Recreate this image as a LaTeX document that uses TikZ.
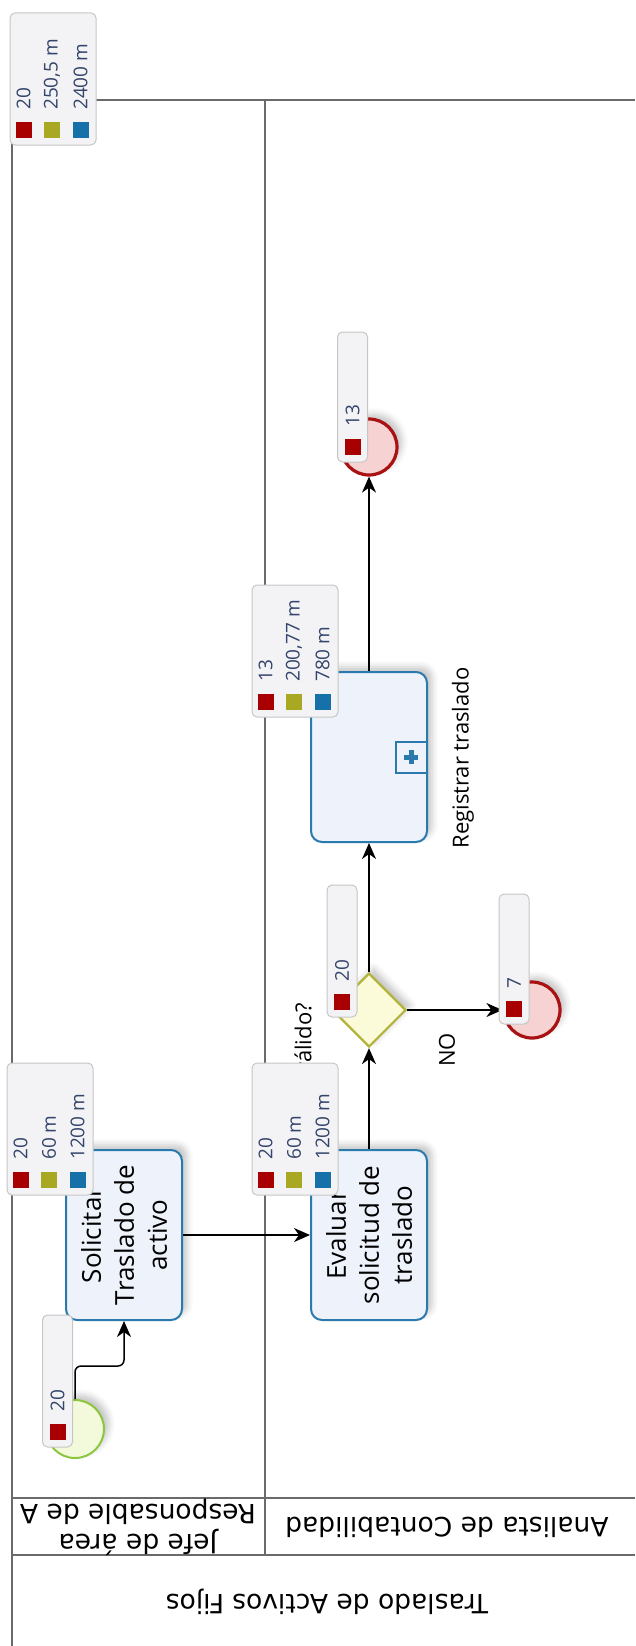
\documentclass[tikz,border=0pt]{standalone}
\usepackage{fontspec}
\setmainfont{Open Sans}
\newfontfamily\hdrfont{DejaVu Sans}
\usetikzlibrary{arrows.meta,shapes.geometric,shadows.blur}

\definecolor{laneline}{HTML}{6A6A6A}
\definecolor{taskline}{HTML}{2A7AAE}
\definecolor{taskfill}{HTML}{EEF2FB}
\definecolor{startline}{HTML}{8CC63F}
\definecolor{startfill}{HTML}{F3F9DB}
\definecolor{endline}{HTML}{A81212}
\definecolor{endfill}{HTML}{F6D2D2}
\definecolor{gwline}{HTML}{B2B33A}
\definecolor{gwfill}{HTML}{FBFBD9}
\definecolor{statline}{HTML}{C6C6C6}
\definecolor{statfill}{HTML}{F3F3F6}
\definecolor{stattext}{HTML}{34456B}
\definecolor{sqred}{HTML}{A80000}
\definecolor{sqolive}{HTML}{A9A823}
\definecolor{sqblue}{HTML}{1671A8}

\tikzset{
  lane/.style={draw=laneline, line width=1.2pt},
  lanetitle/.style={rotate=180, inner sep=0pt, align=center,
    font=\hdrfont\fontsize{26.5}{30}\selectfont},
  task/.style={draw=taskline, fill=taskfill, line width=2pt, rounded corners=11pt,
    rotate=90, minimum width=170pt, minimum height=116pt, inner sep=0pt,
    align=center, font=\fontsize{26}{33}\selectfont,
    blur shadow={shadow xshift=5pt, shadow yshift=5pt, shadow blur radius=6pt, shadow opacity=22}},
  startev/.style={circle, draw=startline, fill=startfill, line width=2pt,
    minimum size=58pt, inner sep=0pt,
    blur shadow={shadow xshift=5pt, shadow yshift=5pt, shadow blur radius=6pt, shadow opacity=22}},
  endev/.style={circle, draw=endline, fill=endfill, line width=3.2pt,
    minimum size=56pt, inner sep=0pt,
    blur shadow={shadow xshift=5pt, shadow yshift=5pt, shadow blur radius=6pt, shadow opacity=22}},
  gateway/.style={diamond, draw=gwline, fill=gwfill, line width=2.2pt,
    minimum width=74pt, minimum height=74pt, inner sep=0pt,
    blur shadow={shadow xshift=5pt, shadow yshift=5pt, shadow blur radius=6pt, shadow opacity=22}},
  plusbox/.style={draw=taskline, line width=2pt, minimum size=31pt, inner sep=0pt},
  plusmark/.style={draw=taskline, line width=5pt},
  flow/.style={draw=black, line width=1.5pt, -{Stealth[length=16pt, width=14pt, inset=5pt]}},
  flowlbl/.style={rotate=90, inner sep=0pt, font=\fontsize{22}{26}\selectfont},
  statbox/.style={draw=statline, fill=statfill, line width=1pt, rounded corners=5pt, inner sep=0pt},
  statsq/.style={minimum size=16pt, inner sep=0pt},
  stattxt/.style={rotate=90, anchor=west, inner sep=0pt, text=stattext,
    font=\fontsize{19}{22}\selectfont},
}

\begin{document}
\begin{tikzpicture}[x=1pt, y=-1pt]
\useasboundingbox (0,0) rectangle (635,1646);

% ---------------------------------------------
% Pool and lanes
% ---------------------------------------------
\draw[lane] (12,100) -- (635,100);
\draw[lane] (12,100) -- (12,1646);
\draw[lane] (265,100) -- (265,1555);
\draw[lane] (12,1498) -- (635,1498);
\draw[lane] (12,1555) -- (635,1555);

\node[lanetitle] (jefe) at (138,1527) {Jefe de área\\Responsable de A};
\node[lanetitle] (analista) at (447,1527) {Analista de Contabilidad};
\node[lanetitle] (pool) at (327,1602) {Traslado de Activos Fijos};

% ---------------------------------------------
% Events, tasks, gateway
% ---------------------------------------------
\node[startev] (inicio) at (75,1429) {};
\node[task] (solicitar) at (124,1235) {Solicitar\\Traslado de\\activo};
\node[task] (evaluar) at (369,1235) {Evaluar\\solicitud de\\traslado};
\node[gateway] (valido) at (369,1010) {};
\node[endev] (finno) at (532,1010) {};
\node[task] (registrar) at (369,757) {};
\node[endev] (finok) at (369,447) {};

% subprocess marker
\node[plusbox] (subproc) at ([xshift=-17pt]registrar.south) {};
\draw[plusmark] ([xshift=-7pt]subproc.center) -- ([xshift=7pt]subproc.center);
\draw[plusmark] ([yshift=-7pt]subproc.center) -- ([yshift=7pt]subproc.center);

% labels
\node[flowlbl, anchor=east] (lblvalido) at (305,1003) {¿Es válido?};
\node[flowlbl] (lblno) at (447,1050) {NO};
\node[flowlbl] (lblreg) at (463,758) {Registrar traslado};

% ---------------------------------------------
% Sequence flows
% ---------------------------------------------
\draw[flow, rounded corners=6pt] (inicio.north) -- ++(0,-33) -| (solicitar.west);
\draw[flow] (solicitar) -- (evaluar);
\draw[flow] (evaluar) -- (valido);
\draw[flow] (valido) -- (registrar);
\draw[flow] (valido) -- (finno);
\draw[flow] (registrar) -- (finok);

% ---------------------------------------------
% Statistics boxes
% ---------------------------------------------
% pool
\node[statbox, minimum width=86pt, minimum height=132pt] (stpool) at (53,79) {};
\node[statsq, fill=sqred] (stpoolsqa) at (23.5,130) {};
\node[stattxt] (stpoola) at (23.5,110) {20};
\node[statsq, fill=sqolive] (stpoolsqb) at (52,130) {};
\node[stattxt] (stpoolb) at (52,110) {250,5 m};
\node[statsq, fill=sqblue] (stpoolsqc) at (80.5,130) {};
\node[stattxt] (stpoolc) at (80.5,110) {2400 m};

% start
\node[statbox, minimum width=30pt, minimum height=132pt] (stinicio) at (57.5,1381) {};
\node[statsq, fill=sqred] (stiniciosq) at (57.5,1432) {};
\node[stattxt] (stinicioa) at (57.5,1412) {20};

% Solicitar
\node[statbox, minimum width=86pt, minimum height=132pt] (stsol) at (50,1129) {};
\node[statsq, fill=sqred] (stsolsqa) at (20.5,1180) {};
\node[stattxt] (stsola) at (20.5,1160) {20};
\node[statsq, fill=sqolive] (stsolsqb) at (49,1180) {};
\node[stattxt] (stsolb) at (49,1160) {60 m};
\node[statsq, fill=sqblue] (stsolsqc) at (77.5,1180) {};
\node[stattxt] (stsolc) at (77.5,1160) {1200 m};

% Evaluar
\node[statbox, minimum width=86pt, minimum height=132pt] (steva) at (295,1129) {};
\node[statsq, fill=sqred] (stevasqa) at (265.5,1180) {};
\node[stattxt] (stevaa) at (265.5,1160) {20};
\node[statsq, fill=sqolive] (stevasqb) at (294,1180) {};
\node[stattxt] (stevab) at (294,1160) {60 m};
\node[statsq, fill=sqblue] (stevasqc) at (322.5,1180) {};
\node[stattxt] (stevac) at (322.5,1160) {1200 m};

% gateway
\node[statbox, minimum width=30pt, minimum height=132pt] (stgw) at (342,951) {};
\node[statsq, fill=sqred] (stgwsq) at (342,1002) {};
\node[stattxt] (stgwa) at (342,982) {20};

% end NO
\node[statbox, minimum width=30pt, minimum height=130pt] (stfinno) at (514,959) {};
\node[statsq, fill=sqred] (stfinnosq) at (514,1009) {};
\node[stattxt] (stfinnoa) at (514,989) {7};

% Registrar
\node[statbox, minimum width=86pt, minimum height=132pt] (streg) at (295,651) {};
\node[statsq, fill=sqred] (stregsqa) at (265.5,702) {};
\node[stattxt] (strega) at (265.5,682) {13};
\node[statsq, fill=sqolive] (stregsqb) at (294,702) {};
\node[stattxt] (stregb) at (294,682) {200,77 m};
\node[statsq, fill=sqblue] (stregsqc) at (322.5,702) {};
\node[stattxt] (stregc) at (322.5,682) {780 m};

% end OK
\node[statbox, minimum width=30pt, minimum height=130pt] (stfinok) at (352.5,397) {};
\node[statsq, fill=sqred] (stfinoksq) at (352.5,447) {};
\node[stattxt] (stfinoka) at (352.5,427) {13};

\end{tikzpicture}
\end{document}
